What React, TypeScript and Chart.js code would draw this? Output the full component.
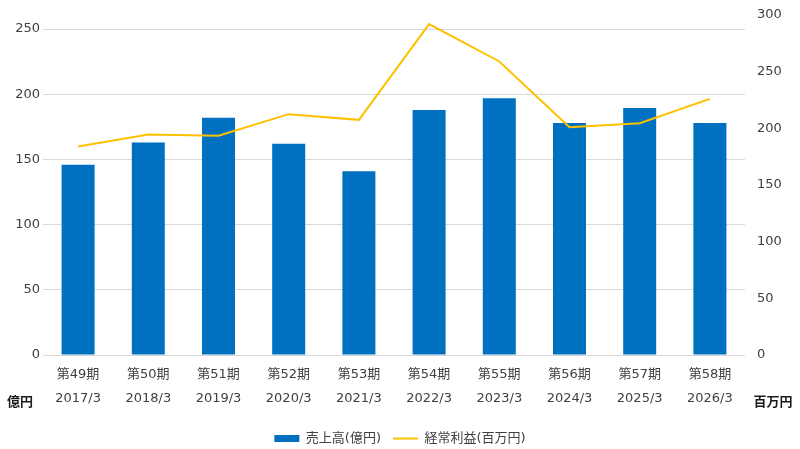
import React, { useEffect, useRef } from "react";
import { Chart, registerables } from "chart.js";

Chart.register(...registerables);

const periods = ["第49期", "第50期", "第51期", "第52期", "第53期", "第54期", "第55期", "第56期", "第57期", "第58期"];
const fiscalYears = ["2017/3", "2018/3", "2019/3", "2020/3", "2021/3", "2022/3", "2023/3", "2024/3", "2025/3", "2026/3"];
const salesOku = [146, 163, 182, 162, 141, 188, 197, 178, 189.5, 178];
const ordinaryProfitMillion = [184, 194.5, 193.5, 212.5, 207.5, 292, 259, 201, 204.5, 226];
const leftTicks = [0, 50, 100, 150, 200, 250];
const salesLabel = "売上高(億円)";
const profitLabel = "経常利益(百万円)";
const leftUnit = "億円";
const rightUnit = "百万円";

const FONT = '"DejaVu Sans", "Noto Sans CJK JP", sans-serif';
const TEXT = "#404040";

export default function App() {
  const ref = useRef<HTMLCanvasElement | null>(null);

  useEffect(() => {
    document.body.style.margin = "0";
    if (!ref.current) return;
    const unitPlugin = {
      id: "unitLabels",
      afterDraw(chart: any) {
        const { ctx, chartArea } = chart;
        ctx.save();
        ctx.font = 'bold 13px "Noto Sans CJK JP", sans-serif';
        ctx.fillStyle = "#1a1a1a";
        ctx.textAlign = "center";
        ctx.textBaseline = "middle";
        ctx.fillText(leftUnit, chartArea.left - 23, chartArea.bottom + 46);
        ctx.fillText(rightUnit, chartArea.right + 28, chartArea.bottom + 46);
        ctx.restore();
      },
    };
    const chart = new Chart(ref.current, {
      type: "bar",
      data: {
        labels: periods.map((p, i) => [p, fiscalYears[i]]),
        datasets: [
          {
            type: "bar",
            label: salesLabel,
            data: salesOku,
            backgroundColor: "#0070C0",
            borderWidth: 0,
            yAxisID: "y",
            order: 1,
            categoryPercentage: 1,
            barPercentage: 0.47,
            pointStyle: "rect",
          } as any,
          {
            type: "line",
            label: profitLabel,
            data: ordinaryProfitMillion,
            borderColor: "#FFC000",
            backgroundColor: "#FFC000",
            borderWidth: 2,
            pointRadius: 0,
            tension: 0,
            yAxisID: "y1",
            order: 0,
            pointStyle: "line",
          } as any,
        ],
      },
      options: {
        animation: false,
        responsive: true,
        maintainAspectRatio: false,
        layout: { padding: { top: 15, left: 0, right: 0, bottom: -6 } },
        plugins: {
          tooltip: { enabled: false },
          legend: {
            position: "bottom",
            labels: {
              usePointStyle: true,
              pointStyleWidth: 25,
              boxHeight: 7,
              padding: 12,
              color: TEXT,
              font: { family: FONT, size: 13 },
              sort: (a: any, b: any) => a.datasetIndex - b.datasetIndex,
            },
          },
        },
        scales: {
          x: {
            grid: { display: false },
            border: { display: false },
            ticks: {
              color: TEXT,
              font: { family: FONT, size: 13, lineHeight: 1.85 },
              padding: 0,
              maxRotation: 0,
              autoSkip: false,
            },
            afterFit(scale: any) {
              scale.height = 65;
            },
          },
          y: {
            position: "left",
            min: 0,
            max: 260.8,
            afterBuildTicks(axis: any) {
              axis.ticks = leftTicks.map((v) => ({ value: v }));
            },
            grid: { color: "#D9D9D9", lineWidth: 1, drawTicks: false },
            border: { display: false },
            ticks: { color: TEXT, font: { family: FONT, size: 13 }, padding: 3 },
            afterFit(scale: any) {
              scale.width = 43;
              scale.paddingTop = 0;
              scale.paddingBottom = 0;
            },
          },
          y1: {
            position: "right",
            min: 0,
            max: 300,
            grid: { display: false, drawTicks: false },
            border: { display: false },
            ticks: { stepSize: 50, color: TEXT, font: { family: FONT, size: 13 }, padding: 12 },
            afterFit(scale: any) {
              scale.width = 55;
              scale.paddingTop = 0;
              scale.paddingBottom = 0;
            },
          },
        },
      } as any,
      plugins: [unitPlugin],
    });
    return () => chart.destroy();
  }, []);

  return (
    <div style={{ position: "relative", width: 800, height: 449 }}>
      <canvas ref={ref} />
    </div>
  );
}
